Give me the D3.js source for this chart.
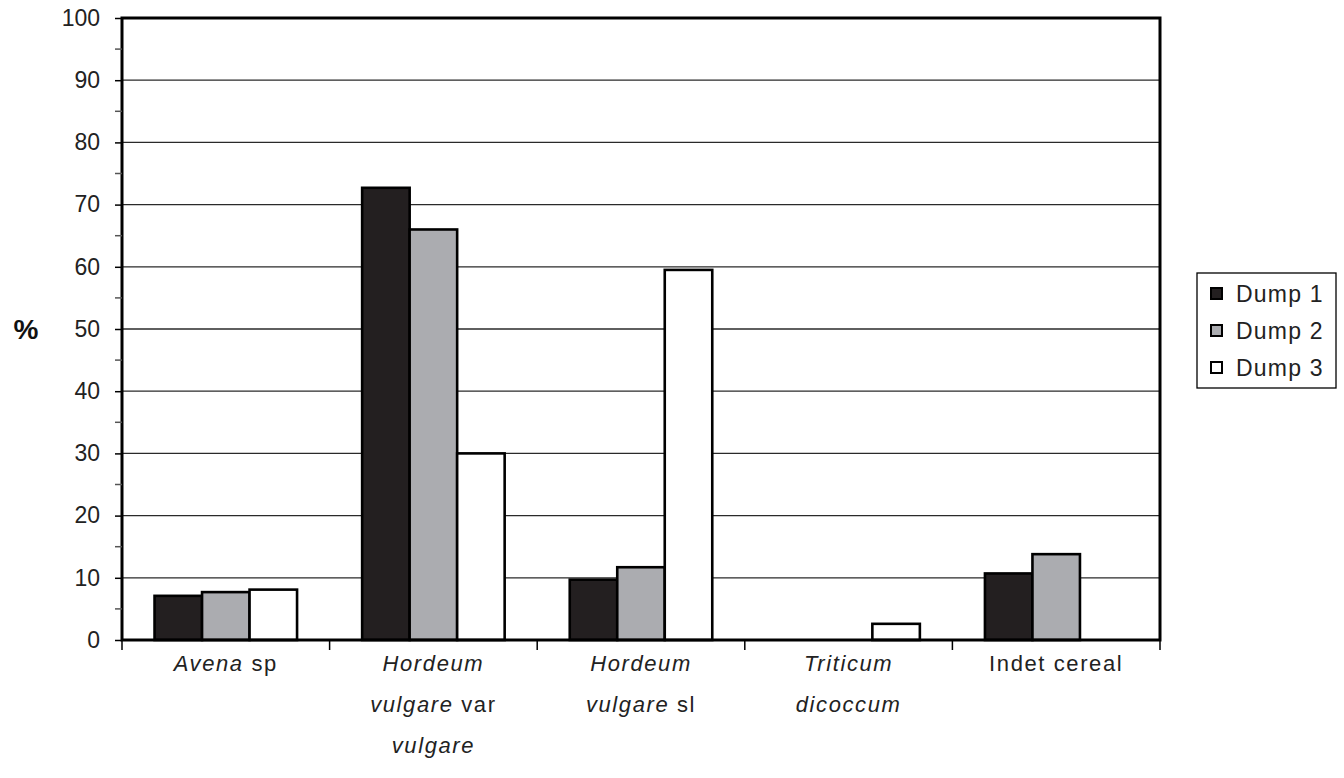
<!DOCTYPE html>
<html>
<head>
<meta charset="utf-8">
<script src="https://cdn.jsdelivr.net/npm/d3@7"></script>
<style>
  html, body { margin: 0; padding: 0; background: #fff; }
  svg { display: block; font-family: "Liberation Sans", Arial, sans-serif; }
</style>
</head>
<body>
<svg id="chart" width="1344" height="778"></svg>
<script>
// Cereal grain composition (%) by dump
const categories = ["Avena sp", "Hordeum vulgare var vulgare", "Hordeum vulgare sl", "Triticum dicoccum", "Indet cereal"];
// Each label line is a list of [text, italic] runs
const categoryLabels = [
  [[["Avena", true], [" sp", false]]],
  [[["Hordeum", true]], [["vulgare", true], [" var", false]], [["vulgare", true]]],
  [[["Hordeum", true]], [["vulgare", true], [" sl", false]]],
  [[["Triticum", true]], [["dicoccum", true]]],
  [[["Indet cereal", false]]]
];
const seriesNames = ["Dump 1", "Dump 2", "Dump 3"];
const dump1 = [7.1, 72.7, 9.7, 0, 10.7];
const dump2 = [7.7, 66.0, 11.7, 0, 13.8];
const dump3 = [8.1, 30.0, 59.5, 2.6, 0];
const seriesColors = ["#231f20", "#abacb0", "#ffffff"];
const yTicks = [0, 10, 20, 30, 40, 50, 60, 70, 80, 90, 100];
const yMinorTicks = [5, 15, 25, 35, 45, 55, 65, 75, 85, 95];

const series = [dump1, dump2, dump3];
const svg = d3.select("#chart");

const plotLeft = 122, plotRight = 1160, plotTop = 18, plotBottom = 640;

const x = d3.scaleBand().domain(categories).range([plotLeft, plotRight]).paddingInner(0).paddingOuter(0);
const x1 = d3.scaleBand().domain(seriesNames)
  .range([0, x.bandwidth()]).paddingInner(0).paddingOuter(0.685);
const y = d3.scaleLinear().domain([0, 100]).range([plotBottom, plotTop]);

// horizontal gridlines
svg.append("g").selectAll("line")
  .data(yTicks.filter(d => d > 0 && d < 100))
  .join("line")
  .attr("x1", plotLeft).attr("x2", plotRight)
  .attr("y1", d => y(d)).attr("y2", d => y(d))
  .attr("stroke", "#2a2a2a").attr("stroke-width", 1.3);

// bars
const groups = svg.append("g").selectAll("g")
  .data(categories)
  .join("g")
  .attr("transform", d => `translate(${x(d)},0)`);

groups.selectAll("rect")
  .data((c, i) => series.map((s, k) => ({ key: seriesNames[k], value: s[i], color: seriesColors[k] })).filter(d => d.value > 0))
  .join("rect")
  .attr("x", d => x1(d.key))
  .attr("width", x1.bandwidth())
  .attr("y", d => y(d.value))
  .attr("height", d => y(0) - y(d.value))
  .attr("fill", d => d.color)
  .attr("stroke", "#000")
  .attr("stroke-width", 2.6);

// plot frame
svg.append("rect")
  .attr("x", plotLeft).attr("y", plotTop)
  .attr("width", plotRight - plotLeft).attr("height", plotBottom - plotTop)
  .attr("fill", "none").attr("stroke", "#000").attr("stroke-width", 3);

// y axis
const yAxis = d3.axisLeft(y).tickValues(yTicks).tickSize(7).tickPadding(15).tickFormat(d3.format("d"));
const yg = svg.append("g").attr("transform", `translate(${plotLeft},0)`).call(yAxis);
yg.select(".domain").remove();
yg.selectAll(".tick line").attr("stroke", "#000").attr("stroke-width", 1.5);
yg.selectAll(".tick text").attr("font-size", 23).attr("fill", "#222")
  .attr("font-family", "'Liberation Sans', Arial, sans-serif");

svg.append("g").selectAll("line")
  .data(yMinorTicks).join("line")
  .attr("x1", plotLeft - 7).attr("x2", plotLeft)
  .attr("y1", d => y(d)).attr("y2", d => y(d))
  .attr("stroke", "#555").attr("stroke-width", 1.5);

// x category boundary ticks
const boundaries = categories.map(c => x(c)).concat([plotRight]);
svg.append("g").selectAll("line")
  .data(boundaries).join("line")
  .attr("x1", d => d).attr("x2", d => d)
  .attr("y1", plotBottom).attr("y2", plotBottom + 10)
  .attr("stroke", "#000").attr("stroke-width", 1.5);

// category labels
const labelG = svg.append("g");
categoryLabels.forEach((lines, i) => {
  const cx = x(categories[i]) + x.bandwidth() / 2;
  lines.forEach((runs, j) => {
    const t = labelG.append("text")
      .attr("x", cx)
      .attr("y", 671 + j * 41)
      .attr("text-anchor", "middle")
      .attr("font-size", 22)
      .attr("letter-spacing", 1.6)
      .attr("fill", "#222");
    runs.forEach(([txt, it]) => {
      t.append("tspan").text(txt).attr("font-style", it ? "italic" : "normal");
    });
  });
});

// y axis title
svg.append("text")
  .attr("x", 26).attr("y", 339)
  .attr("text-anchor", "middle")
  .attr("font-size", 28).attr("font-weight", "bold")
  .attr("fill", "#111")
  .text("%");

// legend
const lg = svg.append("g");
lg.append("rect")
  .attr("x", 1197).attr("y", 273).attr("width", 139).attr("height", 115)
  .attr("fill", "#fff").attr("stroke", "#000").attr("stroke-width", 1.3);
seriesNames.forEach((name, k) => {
  const cy = 294 + k * 37;
  lg.append("rect")
    .attr("x", 1211).attr("y", cy - 6).attr("width", 11).attr("height", 11)
    .attr("fill", seriesColors[k]).attr("stroke", "#000").attr("stroke-width", 2);
  lg.append("text")
    .attr("x", 1236).attr("y", cy + 8)
    .attr("font-size", 23).attr("letter-spacing", 1.2)
    .attr("fill", "#222")
    .text(name);
});
</script>
</body>
</html>
